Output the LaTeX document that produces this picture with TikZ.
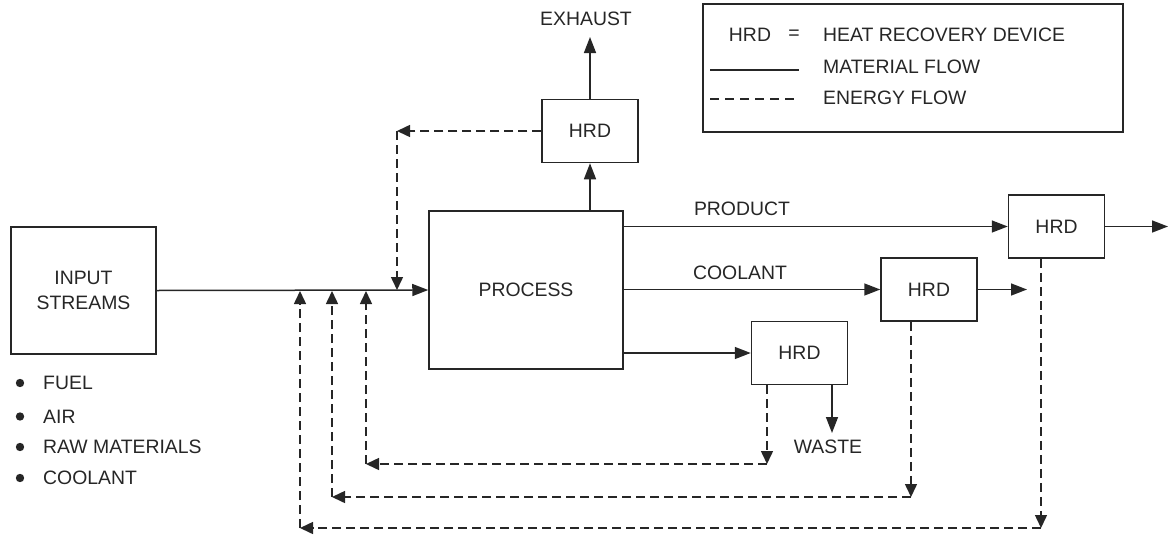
\documentclass[tikz,border=0pt]{standalone}
\usepackage{fontspec}
\setmainfont{Liberation Sans}
\usetikzlibrary{arrows.meta,calc}
\definecolor{ink}{HTML}{262626}
\tikzset{
  box/.style={draw=ink, line width=1.5pt, inner sep=0pt},
  hrd/.style={box, minimum width=96pt, minimum height=63pt},
  lbl/.style={inner sep=0pt},
  lblw/.style={inner sep=0pt, anchor=west},
  mat/.style={draw=ink, line width=1.5pt, -{Triangle[length=16pt,width=12pt]}},
  en/.style={draw=ink, line width=1.5pt, dash pattern=on 9pt off 5pt, -{Triangle[length=13pt,width=12pt]}},
  matline/.style={draw=ink, line width=1.4pt},
  enline/.style={draw=ink, line width=1.4pt, dash pattern=on 8.5pt off 6.5pt},
}
\begin{document}
\begin{tikzpicture}[x=1pt, y=-1pt, font=\fontsize{19.4}{25}\selectfont, text=ink]
\useasboundingbox (0,0) rectangle (1171,536);

% main boxes
\node[box, minimum width=145pt, minimum height=127pt, align=center] (input) at (83.5,290.5) {INPUT\\STREAMS};
\node[box, minimum width=194pt, minimum height=158pt] (proc) at (526,290) {PROCESS};
\node[hrd] (hrdtop) at (590,131) {HRD};
\node[hrd] (hrdprod) at (1056.5,226.5) {HRD};
\node[hrd] (hrdcool) at (929,289.5) {HRD};
\node[hrd] (hrdwaste) at (799.5,353) {HRD};

% labels
\node[lbl] (exhaust) at (586,19) {EXHAUST};
\node[lbl] (product) at (742,209) {PRODUCT};
\node[lbl] (coolant) at (740,273) {COOLANT};
\node[lbl] (waste) at (828,447) {WASTE};

% bullet list
\foreach \yy/\tt/\nm in {383/FUEL/b1, 416.5/AIR/b2, 447/RAW MATERIALS/b3, 478/COOLANT/b4}{
  \fill[ink] (20,\yy) circle (4.2pt);
  \node[lblw] (\nm) at (43,\yy) {\tt};
}

% coordinates
\coordinate (exh) at (590,37);
\coordinate (prodout) at (1168,226.5);
\coordinate (coolout) at (1027,289.5);
\coordinate (wasteout) at (832,433);
\coordinate (j0) at (397,290);
\coordinate (j1) at (366,291);
\coordinate (j2) at (332,291);
\coordinate (j3) at (300,291);
\coordinate (c0) at (397,131);
\coordinate (c1a) at (767,464);
\coordinate (c1b) at (366,464);
\coordinate (c2a) at (911,497);
\coordinate (c2b) at (332,497);
\coordinate (c3a) at (1041,528);
\coordinate (c3b) at (300,528);

% material flows
\draw[mat] (input.east) -- (proc.west);
\draw[mat] (proc.north -| hrdtop) -- (hrdtop.south);
\draw[mat] (hrdtop.north) -- (exh);
\draw[mat] (proc.east |- hrdprod.west) -- (hrdprod.west);
\draw[mat] (proc.east |- hrdcool.west) -- (hrdcool.west);
\draw[mat] (proc.east |- hrdwaste.west) -- (hrdwaste.west);
\draw[mat] (hrdprod.east) -- (prodout);
\draw[mat] (hrdcool.east) -- (coolout);
\draw[mat] (hrdwaste.south -| wasteout) -- (wasteout);

% energy flows
\draw[en] (hrdtop.west) -- (c0);
\draw[en] (c0) -- (j0);
\draw[en] (hrdwaste.south -| c1a) -- (c1a);
\draw[en] (c1a) -- (c1b);
\draw[en] (c1b) -- (j1);
\draw[en] (hrdcool.south -| c2a) -- (c2a);
\draw[en] (c2a) -- (c2b);
\draw[en] (c2b) -- (j2);
\draw[en] (hrdprod.south -| c3a) -- (c3a);
\draw[en] (c3a) -- (c3b);
\draw[en] (c3b) -- (j3);

% legend
\node[box, minimum width=420pt, minimum height=128pt] (legend) at (913,68) {};
\node[lbl] (lhrd) at (750,35) {HRD};
\node[lbl] (leq) at (794,35) {=};
\node[lblw] (l1) at (823,35) {HEAT RECOVERY DEVICE};
\node[lblw] (l2) at (823,67) {MATERIAL FLOW};
\node[lblw] (l3) at (823,98) {ENERGY FLOW};
\coordinate (ls1a) at (710,70);
\coordinate (ls1b) at (799,70);
\coordinate (ls2a) at (710,99);
\coordinate (ls2b) at (799,99);
\draw[matline] (ls1a) -- (ls1b);
\draw[enline] (ls2a) -- (ls2b);
\end{tikzpicture}
\end{document}
